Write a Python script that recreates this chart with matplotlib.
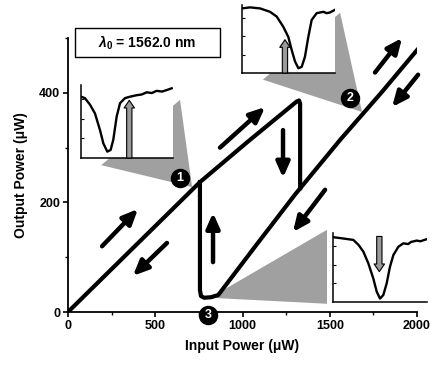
import numpy as np
import matplotlib.pyplot as plt
from matplotlib.patches import Rectangle

plt.rcParams['font.family'] = ['Liberation Sans', 'DejaVu Sans']
plt.rcParams['font.weight'] = 'bold'
plt.rcParams['mathtext.fontset'] = 'custom'
plt.rcParams['mathtext.it'] = 'Liberation Sans:italic:bold'
plt.rcParams['mathtext.rm'] = 'Liberation Sans:bold'

# hysteresis loop (input power uW -> output power uW)
up_x = [0, 756, 1031, 1310, 1324, 1330, 1330]
up_y = [0, 237, 311, 384, 386, 380, 226]
down_x = [2000, 1800, 1559, 1300, 1071, 861, 820, 780, 762, 756, 756]
down_y = [478, 402, 314, 214, 119, 31, 27, 26, 29, 40, 237]

# direction arrows: (x0, y0, x1, y1)
arrows = [(195, 120, 401, 188), (567, 126, 372, 66), (871, 300, 1129, 374),
          (1232, 332, 1232, 245), (831, 91, 831, 181), (1473, 223, 1289, 146),
          (1759, 437, 1914, 500), (2006, 433, 1857, 374)]

# shaded wedges linking the insets to the marked points
wedges = [[(190, 268), (642, 387), (711, 228)],
          [(1117, 424), (1559, 546), (1685, 365)],
          [(814, 26), (1484, 150), (1484, 15)]]

markers = [(642, 245, '1'), (1616, 391, '2'), (802, -5, '3')]

# inset transmission spectra (normalized)
s1_x = [0, 4.3, 9.8, 15.2, 20.7, 24.3, 28.6, 32.2, 35.1, 38.8, 42.4, 47.8, 53.3, 60.5, 66, 71.4, 77, 82.2, 88, 93.1, 98.6]
s1_y = [0.84, 0.82, 0.73, 0.61, 0.38, 0.20, 0.087, 0.11, 0.25, 0.57, 0.75, 0.82, 0.84, 0.86, 0.87, 0.90, 0.89, 0.92, 0.91, 0.93, 0.955]
s2_x = [0, 8.6, 19.4, 30.1, 37.3, 44.4, 49.8, 53.4, 57, 60.6, 64.2, 67.7, 71.3, 74.9, 80.3, 87.5, 91, 94.6, 100]
s2_y = [0.95, 0.965, 0.95, 0.90, 0.83, 0.68, 0.53, 0.34, 0.17, 0.07, 0.09, 0.24, 0.53, 0.78, 0.88, 0.90, 0.88, 0.89, 0.93]
s3_x = [0, 11, 21.6, 27, 32.3, 37.6, 42.9, 46.5, 50, 53.5, 57.1, 60.6, 64.2, 69.5, 74.8, 80, 83, 89, 93, 99.6]
s3_y = [0.94, 0.92, 0.90, 0.83, 0.73, 0.56, 0.34, 0.15, 0.05, 0.10, 0.27, 0.51, 0.68, 0.80, 0.85, 0.84, 0.87, 0.89, 0.88, 0.91]

fig = plt.figure(figsize=(4.32, 3.65), dpi=100)
ax = fig.add_axes([0.1574, 0.1452, 0.808, 0.7507])

for w in wedges:
    xs, ys = zip(*w)
    ax.fill(xs, ys, color='#a0a0a0', ec='none', zorder=1, clip_on=False)

ax.plot(up_x, up_y, color='k', lw=3, solid_joinstyle='round', zorder=3)
ax.plot(down_x, down_y, color='k', lw=3, solid_joinstyle='round', zorder=3)

for x0, y0, x1, y1 in arrows:
    ax.annotate('', xy=(x1, y1), xytext=(x0, y0), annotation_clip=False,
                arrowprops=dict(arrowstyle='-|>,head_length=0.9,head_width=0.4',
                                lw=3.2, color='k', shrinkA=0, shrinkB=0,
                                mutation_scale=10), zorder=4)

for mx, my, lab in markers:
    ax.plot(mx, my, 'o', ms=13, color='k', clip_on=False, zorder=6)
    ax.text(mx, my, lab, color='white', fontsize=9, fontweight='bold',
            ha='center', va='center', zorder=7, clip_on=False)

ax.set_xlim(0, 2000)
ax.set_ylim(0, 500)
ax.set_xticks([0, 500, 1000, 1500, 2000])
ax.set_xticks([250, 750, 1250, 1750], minor=True)
ax.set_yticks([0, 200, 400])
ax.set_yticks([100, 300, 500], minor=True)
ax.tick_params(which='major', length=3.5, width=1.2, labelsize=9, pad=2)
ax.tick_params(which='minor', length=2, width=1)
for lab in ax.get_xticklabels() + ax.get_yticklabels():
    lab.set_fontweight('bold')
for s in ['top', 'right']:
    ax.spines[s].set_visible(False)
for s in ['left', 'bottom']:
    ax.spines[s].set_linewidth(1.3)
ax.set_xlabel('Input Power (μW)', fontsize=10, fontweight='bold', labelpad=5)
ax.set_ylabel('Output Power (μW)', fontsize=10, fontweight='bold', labelpad=8)

# wavelength box
fig.patches.append(Rectangle((75 / 432, 1 - 57 / 365), 145 / 432, 29 / 365,
                             transform=fig.transFigure, fill=False, ec='k', lw=1))
fig.text(147 / 432, 1 - 43 / 365, r'$\lambda_0$ = 1562.0 nm', ha='center', va='center',
         fontsize=10, fontweight='bold')


def inset(rect, sx, sy, ax_x, y0, y1):
    a = fig.add_axes(rect)
    a.plot(sx, sy, color='k', lw=1.7)
    a.set_xlim(0, 100)
    a.set_ylim(0, 1)
    a.set_xticks([])
    a.set_yticks([0.27, 0.54, 0.81])
    a.tick_params(axis='y', direction='in', length=2, width=0.8, labelleft=False)
    for s in ['top', 'right']:
        a.spines[s].set_visible(False)
    for s in ['left', 'bottom']:
        a.spines[s].set_linewidth(1.1)
    a.annotate('', xy=(ax_x, y1), xytext=(ax_x, y0),
               arrowprops=dict(arrowstyle='simple,head_length=0.55,head_width=0.75,tail_width=0.38',
                               fc='#9a9a9a', ec='k', lw=0.8, shrinkA=0, shrinkB=0,
                               mutation_scale=10))
    return a


inset([81 / 432, 1 - 158 / 365, 92 / 432, 73 / 365], s1_x, s1_y, 52.5, 0.0, 0.79)
inset([242 / 432, 1 - 73 / 365, 93 / 432, 68 / 365], s2_x, s2_y, 46.2, 0.0, 0.49)
inset([333 / 432, 1 - 302 / 365, 94 / 432, 69 / 365], s3_x, s3_y, 49.3, 0.95, 0.44)

fig.savefig('out.png', dpi=100)
